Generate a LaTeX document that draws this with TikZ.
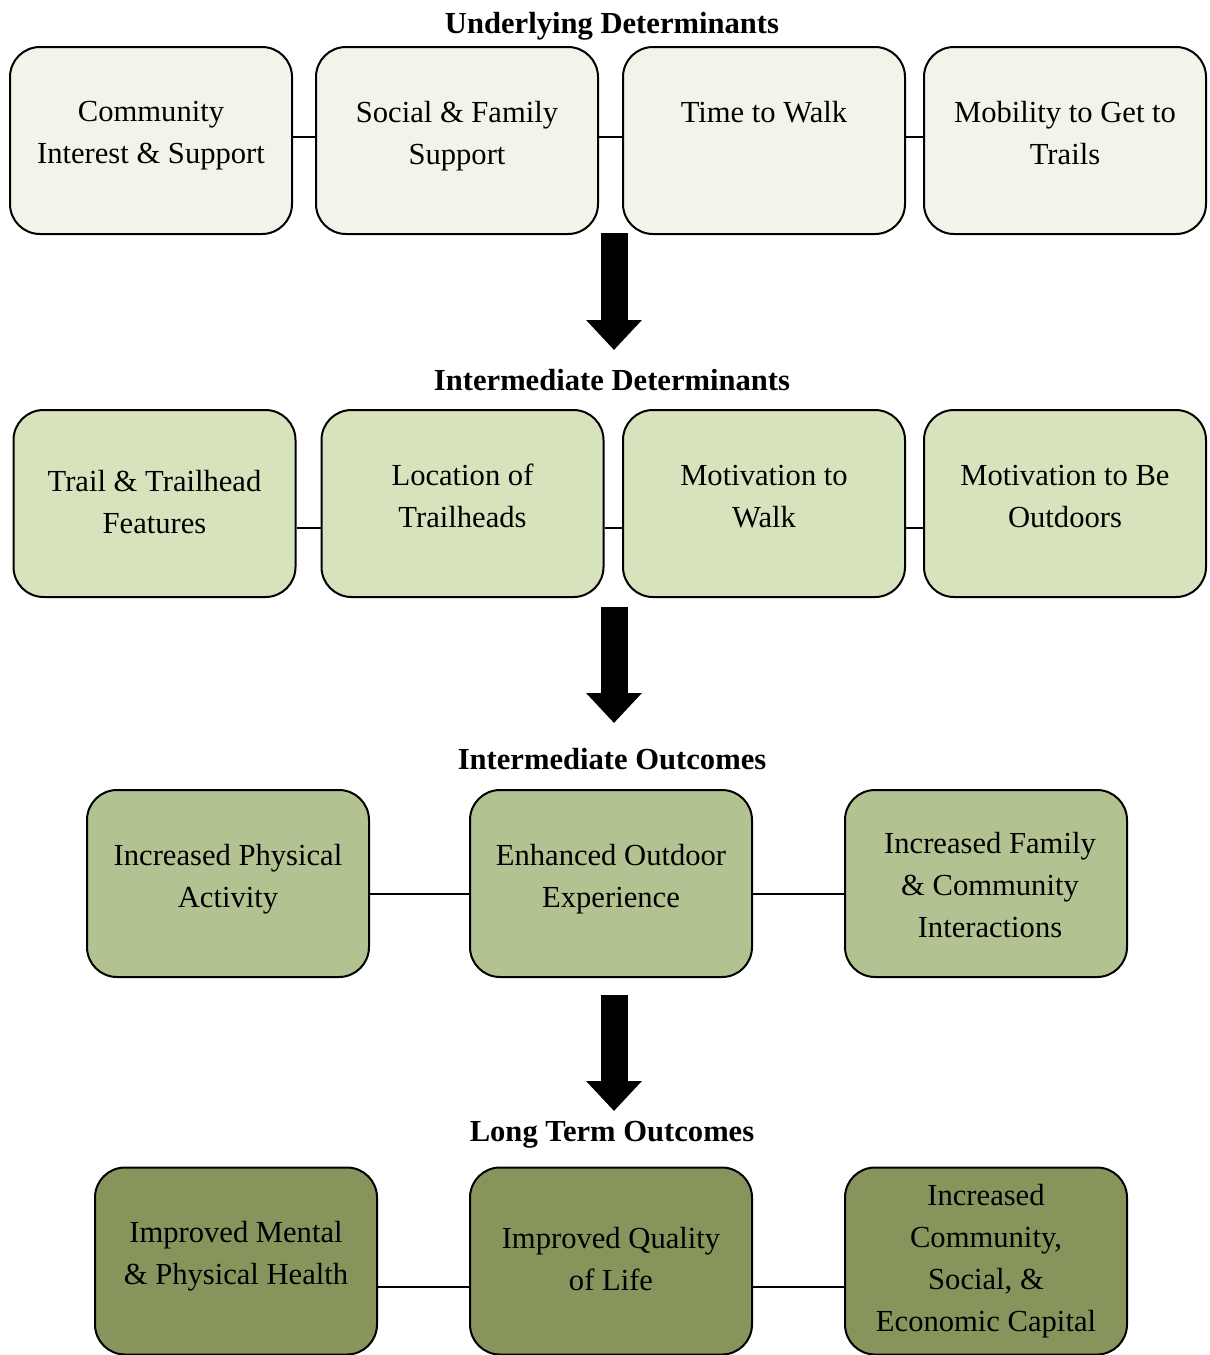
\documentclass[tikz,border=0pt]{standalone}
\usepackage{fontspec}
\setmainfont{Liberation Serif}
\usetikzlibrary{arrows.meta,calc}

\definecolor{udfill}{HTML}{F1F4E9}
\definecolor{idfill}{HTML}{D7E3BC}
\definecolor{iofill}{HTML}{B2C391}
\definecolor{ltfill}{HTML}{87945B}

\begin{document}
\begin{tikzpicture}[x=0.5pt, y=-0.5pt,
        box/.style={draw=black, line width=1pt, rounded corners=15pt,
          minimum width=141pt, minimum height=93.5pt, inner sep=0pt},
        lbl/.style={align=center, inner sep=0pt, font=\fontsize{15.3}{21}\selectfont},
        heading/.style={inner sep=0pt, font=\fontsize{15.3}{18}\selectfont\bfseries},
        link/.style={line width=1pt},
        bigarrow/.style={line width=13.5pt, -{Triangle[width=27pt,length=15pt]}}]
        \fill[white] (0,0) rectangle (1210,1355);
        \useasboundingbox (0,0) rectangle (1210,1355);

        % underlying determinants
        \node[heading] (udh) at (612,26) {Underlying Determinants};
        \node[box, fill=udfill] (ud1) at (151,140.5) {};
        \node[box, fill=udfill] (ud2) at (457,140.5) {};
        \node[box, fill=udfill] (ud3) at (764,140.5) {};
        \node[box, fill=udfill] (ud4) at (1065,140.5) {};
        \node[lbl] (ud1t) at ($(ud1)+(0,-4.5)$) {Community\\Interest \& Support};
        \node[lbl] (ud2t) at ($(ud2)+(0,-4.5)$) {Social \& Family\\Support};
        \node[lbl] (ud3t) at ($(ud3)+(0,-28.5)$) {Time to Walk};
        \node[lbl] (ud4t) at ($(ud4)+(0,-7.5)$) {Mobility to Get to\\Trails};
        \foreach \a/\b in {ud1/ud2, ud2/ud3, ud3/ud4} {
          \draw[link] ($(\a.east)+(0,-3.5)$) -- ($(\b.west)+(0,-3.5)$);
        };

        % intermediate determinants
        \node[heading] (idh) at (612,380) {Intermediate Determinants};
        \node[box, fill=idfill] (id1) at (154.5,503.5) {};
        \node[box, fill=idfill] (id2) at (462.5,503.5) {};
        \node[box, fill=idfill] (id3) at (764,503.5) {};
        \node[box, fill=idfill] (id4) at (1065,503.5) {};
        \node[lbl] (id1t) at ($(id1)+(0,-1.5)$) {Trail \& Trailhead\\Features};
        \node[lbl] (id2t) at ($(id2)+(0,-7.5)$) {Location of\\Trailheads};
        \node[lbl] (id3t) at ($(id3)+(0,-7)$) {Motivation to\\Walk};
        \node[lbl] (id4t) at ($(id4)+(0,-7)$) {Motivation to Be\\Outdoors};
        \foreach \a/\b in {id1/id2, id2/id3, id3/id4} {
          \draw[link] ($(\a.east)+(0,24.5)$) -- ($(\b.west)+(0,24.5)$);
        };

        % intermediate outcomes
        \node[heading] (ioh) at (612,759) {Intermediate Outcomes};
        \node[box, fill=iofill] (io1) at (228,883.5) {};
        \node[box, fill=iofill] (io2) at (611,883.5) {};
        \node[box, fill=iofill] (io3) at (986,883.5) {};
        \node[lbl] (io1t) at ($(io1)+(0,-4.5)$) {Increased Physical\\Activity};
        \node[lbl] (io2t) at ($(io2)+(0,-4.5)$) {Enhanced Outdoor\\Experience};
        \node[lbl] (io3t) at ($(io3)+(4,1.5)$) {Increased Family\\\& Community\\Interactions};
        \foreach \a/\b in {io1/io2, io2/io3} {
          \draw[link] ($(\a.east)+(0,10.5)$) -- ($(\b.west)+(0,10.5)$);
        };

        % long term outcomes
        \node[heading] (lth) at (612,1135) {Long Term Outcomes};
        \node[box, fill=ltfill] (lt1) at (236,1261) {};
        \node[box, fill=ltfill] (lt2) at (611,1261) {};
        \node[box, fill=ltfill] (lt3) at (986,1261) {};
        \node[lbl] (lt1t) at ($(lt1)+(0,-5)$) {Improved Mental\\\& Physical Health};
        \node[lbl] (lt2t) at ($(lt2)+(0,-1.5)$) {Improved Quality\\of Life};
        \node[lbl] (lt3t) at ($(lt3)+(0,0)$) {Increased\\Community,\\Social, \&\\Economic Capital};
        \foreach \a/\b in {lt1/lt2, lt2/lt3} {
          \draw[link] ($(\a.east)+(0,26)$) -- ($(\b.west)+(0,26)$);
        };

        % block arrows between the levels
        \coordinate (a1s) at (614,233);
        \coordinate (a1e) at (614,350);
        \coordinate (a2s) at (614,607);
        \coordinate (a2e) at (614,723);
        \coordinate (a3s) at (614,995);
        \coordinate (a3e) at (614,1111);
        \foreach \s/\e in {a1s/a1e, a2s/a2e, a3s/a3e} {
          \draw[bigarrow] (\s) -- (\e);
        };
      \end{tikzpicture}
\end{document}
